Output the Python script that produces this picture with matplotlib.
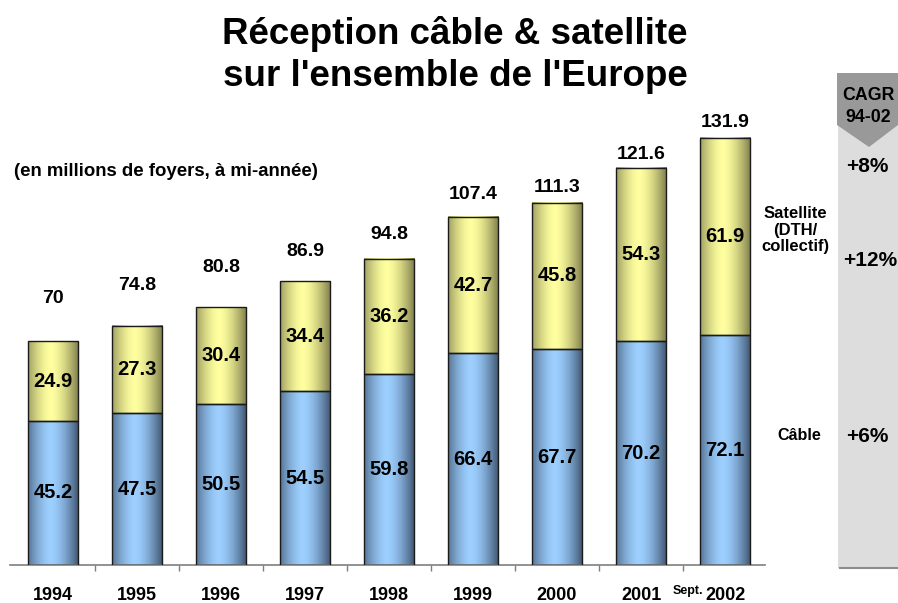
import numpy as np
import matplotlib
matplotlib.use("Agg")
import matplotlib.pyplot as plt
from matplotlib.patches import Polygon, Rectangle
from matplotlib.colors import to_rgb

plt.rcParams['font.family'] = ['Liberation Sans', 'DejaVu Sans']
plt.rcParams['font.weight'] = 'bold'

# =========================
# DATA
# =========================
years = ['1994', '1995', '1996', '1997', '1998', '1999', '2000', '2001', '2002']
cable = [45.2, 47.5, 50.5, 54.5, 59.8, 66.4, 67.7, 70.2, 72.1]
satellite = [24.9, 27.3, 30.4, 34.4, 36.2, 42.7, 45.8, 54.3, 61.9]
totals = ['70', '74.8', '80.8', '86.9', '94.8', '107.4', '111.3', '121.6', '131.9']
cagr_labels = ['+8%', '+12%', '+6%']

# gap (px) between bar top and the centre of its total label, as on the slide
total_gap = [43, 41, 39, 30, 24, 22, 15, 13, 15]

W, H = 898, 603
fig = plt.figure(figsize=(W / 100, H / 100), dpi=100)

# axes placed in pixel terms: baseline at y=565, 84 px per bar
base_px = 565
px_per_unit = 3.19
ymax = 145
x_left, x_right = 10, 765
xl = (x_left - 53) / 84
xr = (x_right - 53) / 84
ax = fig.add_axes([x_left / W, (H - base_px) / H,
                   (x_right - x_left) / W, ymax * px_per_unit / H])


def gradient(light, dark, n=64):
    t = np.linspace(0, 1, n)
    k = 1 - np.clip(np.abs(t - 0.45) / 0.55, 0, 1) ** 1.6
    light = np.array(to_rgb(light))
    dark = np.array(to_rgb(dark))
    return (dark[None, :] + (light - dark)[None, :] * k[:, None])[None, :, :]


blue_grad = gradient('#9dcfff', '#3e5470')
yellow_grad = gradient('#ffffa0', '#7d7d4a')

bw = 0.6
x = np.arange(len(years))
for i in x:
    c, s = cable[i], satellite[i]
    for bot, h, grad in [(0, c, blue_grad), (c, s, yellow_grad)]:
        ax.imshow(grad, extent=(i - bw / 2, i + bw / 2, bot, bot + h),
                  aspect='auto', interpolation='bilinear', zorder=2)
        ax.add_patch(Rectangle((i - bw / 2, bot), bw, h, fill=False,
                               edgecolor='#1a1a1a', linewidth=1.0, zorder=3))
    ax.text(i, c / 2, f'{c}', ha='center', va='center', fontsize=14.5, zorder=4)
    ax.text(i, c + s / 2, f'{s}', ha='center', va='center', fontsize=14.5, zorder=4)
    ax.text(i, c + s + total_gap[i] / px_per_unit, totals[i], ha='center',
            va='center', fontsize=14)

ax.set_xlim(xl, xr)
ax.set_ylim(0, ymax)
for side in ['top', 'right', 'left']:
    ax.spines[side].set_visible(False)
ax.spines['bottom'].set_color('#7f7f7f')
ax.spines['bottom'].set_linewidth(1.2)
ax.set_yticks([])
ax.set_xticks(x[:-1] + 0.5)
ax.set_xticklabels([])
ax.tick_params(axis='x', length=4, width=1, color='#7f7f7f', direction='out')

for i, yr in enumerate(years):
    ax.text(i, -9.5, yr, ha='center', va='center', fontsize=13)
ax.text(len(years) - 1 - 0.26, -8.3, 'Sept.', ha='right', va='center', fontsize=9)


def fx(px):
    return px / W


def fy(py):
    return 1 - py / H


# title and subtitle
fig.text(fx(455), fy(34), 'Réception câble & satellite', ha='center', va='center', fontsize=26.5)
fig.text(fx(455), fy(76), "sur l'ensemble de l'Europe", ha='center', va='center', fontsize=26.5)
fig.text(fx(14), fy(172), '(en millions de foyers, à mi-année)', ha='left', va='center', fontsize=13.4)

# CAGR panel
fig.add_artist(Rectangle((fx(838), fy(568)), fx(898) - fx(838), fy(73) - fy(568),
                         transform=fig.transFigure, facecolor='#dddddd', edgecolor='none'))
fig.add_artist(plt.Line2D([fx(840), fx(898)], [fy(568), fy(568)], transform=fig.transFigure,
                          color='#8c8c8c', linewidth=1.5))
fig.add_artist(Polygon([(fx(837), fy(73)), (fx(898), fy(73)), (fx(898), fy(125)),
                        (fx(869), fy(147)), (fx(837), fy(125))], closed=True,
                       transform=fig.transFigure, facecolor='#999999', edgecolor='none'))
fig.text(fx(868), fy(96), 'CAGR', ha='center', va='center', fontsize=12.8)
fig.text(fx(868), fy(117), '94-02', ha='center', va='center', fontsize=12.8)

fig.text(fx(867), fy(166), cagr_labels[0], ha='center', va='center', fontsize=15)
fig.text(fx(870), fy(260), cagr_labels[1], ha='center', va='center', fontsize=15)
fig.text(fx(867), fy(437), cagr_labels[2], ha='center', va='center', fontsize=15)

fig.text(fx(795), fy(230), 'Satellite\n(DTH/\ncollectif)', ha='center', va='center',
         fontsize=12, linespacing=1.1)
fig.text(fx(799), fy(435), 'Câble', ha='center', va='center', fontsize=11.6)

fig.savefig('out.png', dpi=100)
